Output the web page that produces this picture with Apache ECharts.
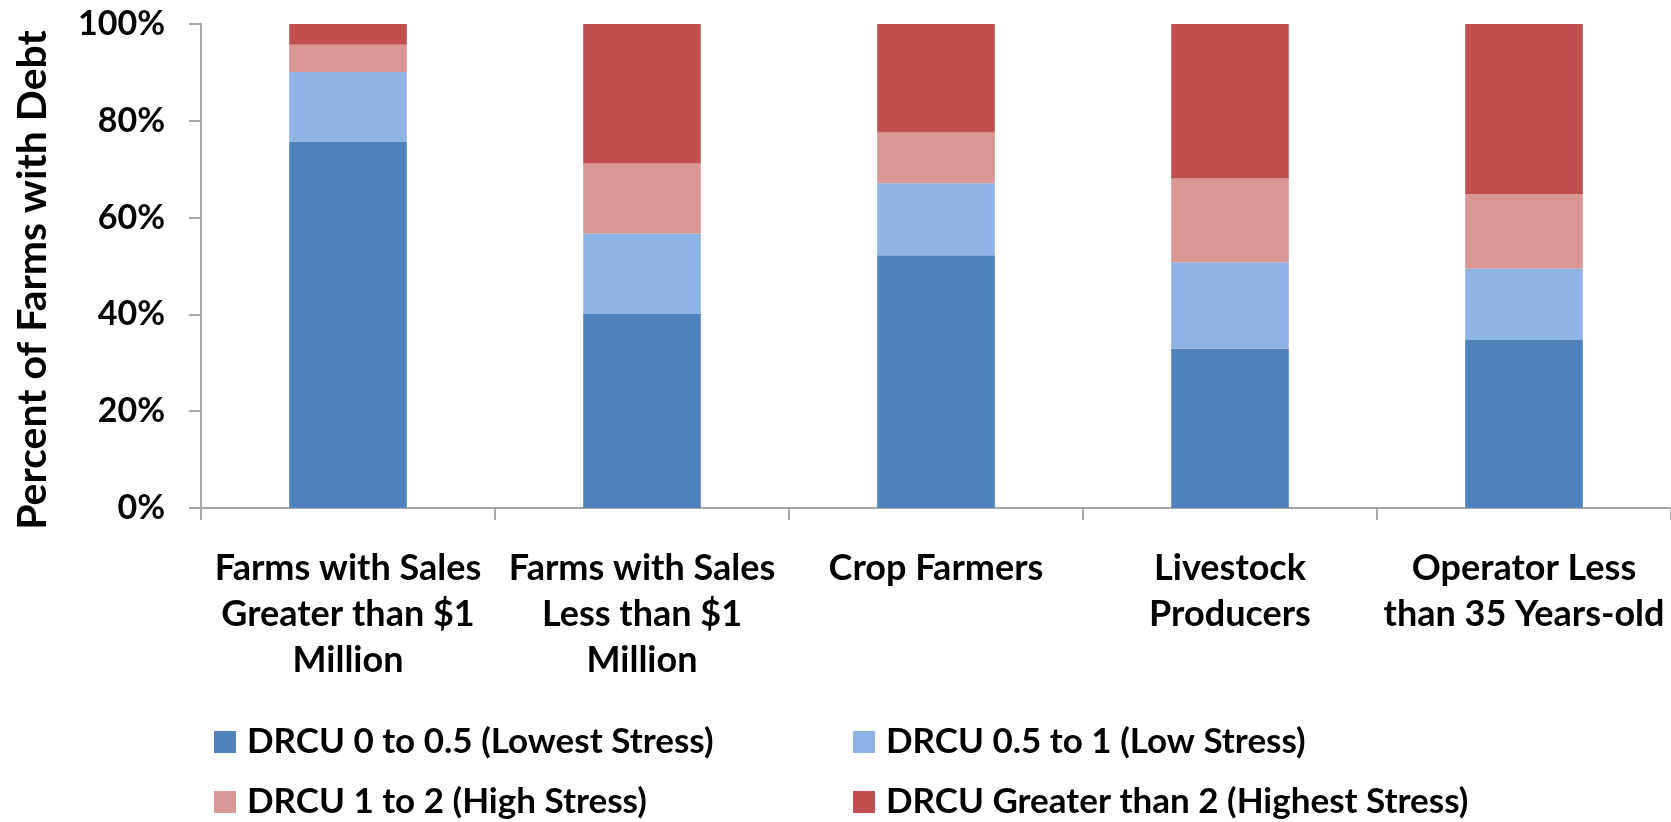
<!DOCTYPE html>
<html>
<head>
<meta charset="utf-8">
<script src="https://cdn.jsdelivr.net/npm/echarts@6/dist/echarts.min.js"></script>
<style>
  html, body { margin: 0; padding: 0; background: #fff; }
  #chart { width: 1671px; height: 822px; }
</style>
</head>
<body>
<div id="chart"></div>
<script>
// Farm groups along the horizontal axis
const categories = [
  'Farms with Sales\nGreater than $1\nMillion',
  'Farms with Sales\nLess than $1\nMillion',
  'Crop Farmers',
  'Livestock\nProducers',
  'Operator Less\nthan 35 Years-old'
];

// Share of indebted farms in each debt-repayment-capacity-utilization band (%)
const drcuLowest  = [75.6, 40.2, 52.2, 32.9, 34.7];
const drcuLow     = [14.5, 16.5, 14.9, 17.9, 14.8];
const drcuHigh    = [5.6, 14.5, 10.5, 17.3, 15.3];
const drcuHighest = [4.3, 28.8, 22.4, 31.9, 35.2];

const seriesNames = [
  'DRCU 0 to 0.5 (Lowest Stress)',
  'DRCU 0.5 to 1 (Low Stress)',
  'DRCU 1 to 2 (High Stress)',
  'DRCU Greater than 2 (Highest Stress)'
];

const yTicks = { min: 0, max: 100, interval: 20 };

const FONT = 'Lato';
const colors = ['#4F81BD', '#8FB3E2', '#D99694', '#C0504D'];
const axisGray = '#A6A6A6';

const chart = echarts.init(document.getElementById('chart'), null, { renderer: 'canvas' });

// One legend block per entry, laid out as a 2 x 2 grid
const legendSlots = [
  { left: 209, top: 717 },
  { left: 848, top: 717 },
  { left: 209, top: 777 },
  { left: 848, top: 777 }
];

const legends = seriesNames.map((name, i) => ({
  data: [name],
  left: legendSlots[i].left, top: legendSlots[i].top,
  itemWidth: 22, itemHeight: 22, icon: 'rect', selectedMode: false,
  textStyle: {
    fontFamily: FONT, fontWeight: 'bold', fontSize: 35, color: '#000',
    lineHeight: 40, padding: [0, 0, 0, 6]
  }
}));

function bar(name, data, color) {
  return {
    name, type: 'bar', stack: 'total', data, barWidth: '40%',
    itemStyle: { color }, emphasis: { disabled: true }
  };
}

chart.setOption({
  animation: false,
  color: colors,
  grid: { left: 201, right: 0, top: 24, bottom: 314, containLabel: false },
  legend: legends,
  xAxis: {
    type: 'category',
    data: categories,
    boundaryGap: true,
    axisLine: { show: true, lineStyle: { color: axisGray, width: 2 } },
    axisTick: { show: true, alignWithLabel: false, interval: 0, length: 12, lineStyle: { color: axisGray, width: 2 } },
    axisLabel: {
      interval: 0, margin: 37, color: '#000',
      fontFamily: FONT, fontWeight: 'bold', fontSize: 36, lineHeight: 46
    }
  },
  yAxis: {
    type: 'value',
    min: yTicks.min, max: yTicks.max, interval: yTicks.interval,
    name: 'Percent of Farms with Debt',
    nameLocation: 'middle', nameRotate: 90, nameGap: 148,
    nameTextStyle: {
      fontFamily: FONT, fontWeight: 'bold', fontSize: 41, color: '#000',
      padding: [0, 28, 0, 0]
    },
    axisLine: { show: true, lineStyle: { color: axisGray, width: 2 } },
    axisTick: { show: true, length: 12, lineStyle: { color: axisGray, width: 2 } },
    splitLine: { show: false },
    axisLabel: {
      margin: 36, color: '#000', formatter: '{value}%',
      fontFamily: FONT, fontWeight: 'bold', fontSize: 34
    }
  },
  series: [
    bar(seriesNames[0], drcuLowest, colors[0]),
    bar(seriesNames[1], drcuLow, colors[1]),
    bar(seriesNames[2], drcuHigh, colors[2]),
    bar(seriesNames[3], drcuHighest, colors[3])
  ]
});
</script>
</body>
</html>
